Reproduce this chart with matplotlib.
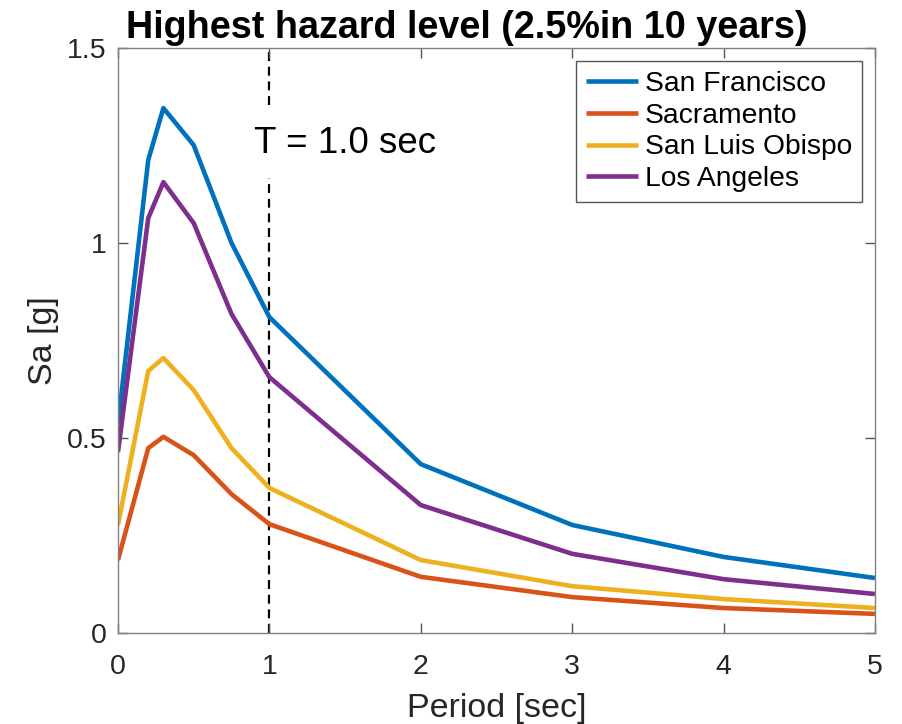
import matplotlib
matplotlib.use("Agg")
import matplotlib.pyplot as plt

plt.rcParams['font.family'] = ['Liberation Sans', 'DejaVu Sans']

# spectral periods (sec)
period = [0, 0.2, 0.3, 0.5, 0.75, 1, 2, 3, 4, 5]

# Sa [g] per city
san_francisco = [0.536, 1.213, 1.346, 1.251, 1.0, 0.81, 0.433, 0.277, 0.195, 0.141]
sacramento = [0.187, 0.474, 0.503, 0.456, 0.356, 0.279, 0.144, 0.092, 0.064, 0.049]
san_luis_obispo = [0.277, 0.672, 0.705, 0.623, 0.474, 0.372, 0.187, 0.12, 0.087, 0.064]
los_angeles = [0.464, 1.064, 1.156, 1.051, 0.818, 0.656, 0.328, 0.203, 0.138, 0.1]

series = [
    ("San Francisco", san_francisco, "#0072BD"),
    ("Sacramento", sacramento, "#D95319"),
    ("San Luis Obispo", san_luis_obispo, "#EDB120"),
    ("Los Angeles", los_angeles, "#7E2F8E"),
]

fig = plt.figure(figsize=(9.02, 7.24), dpi=100)
ax = fig.add_axes([0.1308, 0.1257, 0.8392, 0.808])

for name, vals, col in series:
    ax.plot(period, vals, color=col, linewidth=3.3, label=name, solid_capstyle='butt')

# reference period marker
ax.plot([1, 1], [0, 1.5], color='black', linestyle=(0, (4, 2.6)), linewidth=1.6, zorder=1)
ax.text(0.90, 1.255, "T = 1.0 sec", fontsize=26.5, va='center', ha='left',
        bbox=dict(facecolor='white', edgecolor='none', pad=12), zorder=2)

ax.set_xlim(0, 5)
ax.set_ylim(0, 1.5)
ax.set_xticks([0, 1, 2, 3, 4, 5])
ax.set_xticklabels(["0", "1", "2", "3", "4", "5"])
ax.set_yticks([0, 0.5, 1, 1.5])
ax.set_yticklabels(["0", "0.5", "1", "1.5"])
ax.tick_params(direction='in', top=True, right=True, length=7, width=1,
               color='#555555', labelsize=20.5, labelcolor='#262626')
ax.tick_params(axis='x', pad=15)
ax.tick_params(axis='y', pad=8)
for sp in ax.spines.values():
    sp.set_color('#808080')
    sp.set_linewidth(1)

ax.set_xlabel("Period [sec]", fontsize=24.5, color='#262626', labelpad=9.5)
ax.set_ylabel("Sa [g]", fontsize=24.5, color='#262626', labelpad=6)
ax.set_title("Highest hazard level (2.5%in 10 years)", fontsize=27.2, fontweight='bold',
             pad=7, x=0.461)

leg = ax.legend(loc='upper right', fontsize=20.3, fancybox=False, framealpha=1,
                edgecolor='#555555', handlelength=1.85, borderaxespad=0.47,
                labelspacing=0.2, handletextpad=0.22, borderpad=0.35)
leg.get_frame().set_linewidth(1)

fig.savefig("out.png", dpi=100)
